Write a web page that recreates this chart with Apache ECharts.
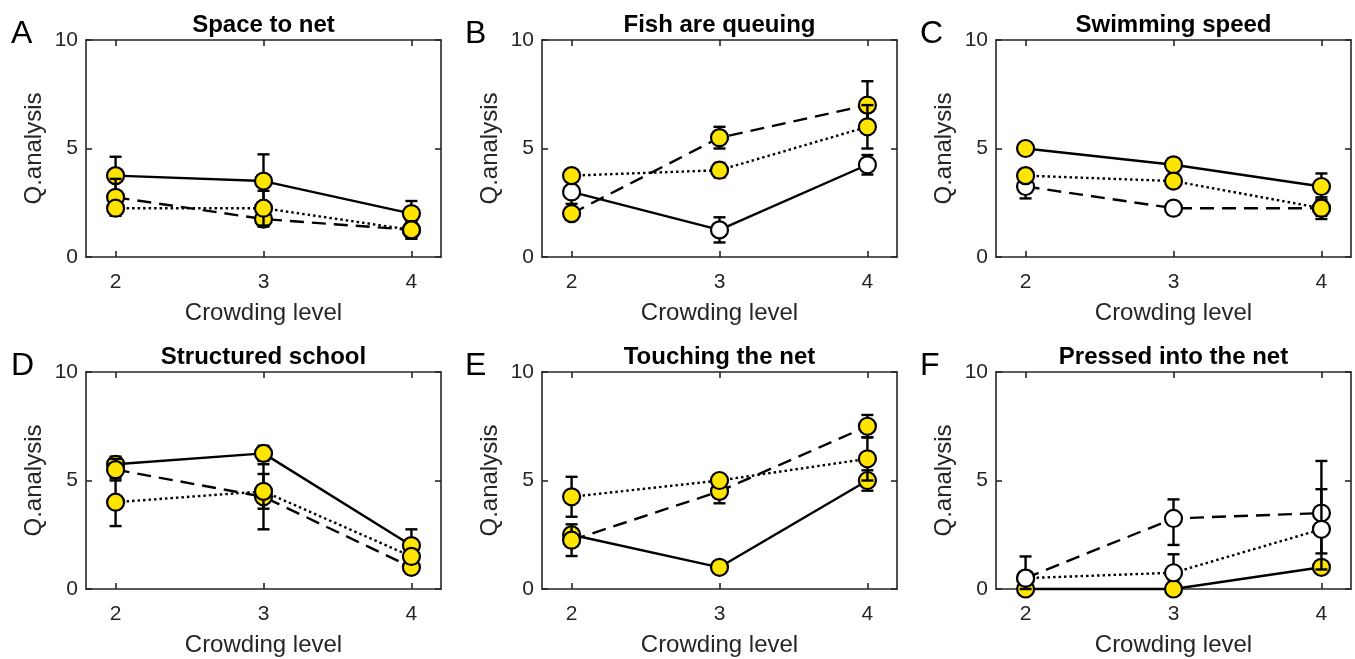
<!DOCTYPE html>
<html><head><meta charset="utf-8">
<script src="https://cdn.jsdelivr.net/npm/echarts@6/dist/echarts.min.js"></script>
<style>html,body{margin:0;padding:0;background:#fff}#c{width:1355px;height:659px}</style>
</head><body><div id="c"></div><script>
// ---------- DATA ----------
const crowding = [2, 3, 4];
const xTicks = [2, 3, 4];
const panelLetters = ['A', 'B', 'C', 'D', 'E', 'F'];
const panelTitles = ['Space to net', 'Fish are queuing', 'Swimming speed', 'Structured school', 'Touching the net', 'Pressed into the net'];
const xName = 'Crowding level';
const yName = 'Q.analysis';
// fill: 1 = yellow filled marker, 0 = open (white) marker; err = [low, high]
// A: Space to net
const A_solid = [3.75, 3.5, 2.0];
const A_solid_err = [[2.88, 4.62], [2.27, 4.73], [1.42, 2.58]];
const A_solid_fill = [1, 1, 1];
const A_dashed = [2.75, 1.75, 1.25];
const A_dashed_err = [[1.9, 3.6], [1.4, 2.1], [0.85, 1.65]];
const A_dashed_fill = [1, 1, 1];
const A_dotted = [2.25, 2.25, 1.25];
const A_dotted_err = [[2.0, 2.5], [1.45, 3.05], [0.85, 1.65]];
const A_dotted_fill = [1, 1, 1];
// B: Fish are queuing
const B_solid = [3.0, 1.25, 4.25];
const B_solid_err = [[2.45, 3.55], [0.67, 1.83], [3.8, 4.7]];
const B_solid_fill = [0, 0, 0];
const B_dashed = [2.0, 5.5, 7.0];
const B_dashed_err = [[1.75, 2.25], [5.0, 6.0], [5.9, 8.1]];
const B_dashed_fill = [1, 1, 1];
const B_dotted = [3.75, 4.0, 6.0];
const B_dotted_err = [[3.55, 3.95], [3.67, 4.33], [5.0, 7.0]];
const B_dotted_fill = [1, 1, 1];
// C: Swimming speed
const C_solid = [5.0, 4.25, 3.25];
const C_solid_err = [[4.85, 5.15], [3.95, 4.55], [2.65, 3.85]];
const C_solid_fill = [1, 1, 1];
const C_dashed = [3.25, 2.25, 2.25];
const C_dashed_err = [[2.7, 3.8], [1.95, 2.55], [1.75, 2.75]];
const C_dashed_fill = [0, 0, 0];
const C_dotted = [3.75, 3.5, 2.25];
const C_dotted_err = [[3.45, 4.05], [3.2, 3.8], [1.9, 2.6]];
const C_dotted_fill = [1, 1, 1];
// D: Structured school
const D_solid = [5.75, 6.25, 2.0];
const D_solid_err = [[5.4, 6.1], [5.9, 6.6], [1.25, 2.75]];
const D_solid_fill = [1, 1, 1];
const D_dashed = [5.5, 4.25, 1.0];
const D_dashed_err = [[5.0, 6.0], [2.75, 5.75], [0.7, 1.3]];
const D_dashed_fill = [1, 1, 1];
const D_dotted = [4.0, 4.5, 1.5];
const D_dotted_err = [[2.9, 5.1], [3.7, 5.3], [1.2, 1.8]];
const D_dotted_fill = [1, 1, 1];
// E: Touching the net
const E_solid = [2.5, 1.0, 5.0];
const E_solid_err = [[2.2, 2.8], [0.8, 1.2], [4.53, 5.47]];
const E_solid_fill = [1, 1, 1];
const E_dashed = [2.25, 4.5, 7.5];
const E_dashed_err = [[1.52, 2.98], [3.95, 5.05], [6.98, 8.02]];
const E_dashed_fill = [1, 1, 1];
const E_dotted = [4.25, 5.0, 6.0];
const E_dotted_err = [[3.33, 5.17], [4.8, 5.2], [5.0, 7.0]];
const E_dotted_fill = [1, 1, 1];
// F: Pressed into the net
const F_solid = [0, 0, 1.0];
const F_solid_err = [[0, 0], [0, 0], [0.8, 1.2]];
const F_solid_fill = [1, 1, 1];
const F_dashed = [0.5, 3.25, 3.5];
const F_dashed_err = [[0, 1.5], [2.03, 4.13], [1.64, 5.9]];
const F_dashed_fill = [0, 0, 0];
const F_dotted = [0.5, 0.75, 2.75];
const F_dotted_err = [[0.3, 0.7], [0.4, 1.6], [0.9, 4.6]];
const F_dotted_fill = [0, 0, 0];

// ---------- BUILD ----------
const panelSeries = [
  [[A_solid, A_solid_err, A_solid_fill], [A_dashed, A_dashed_err, A_dashed_fill], [A_dotted, A_dotted_err, A_dotted_fill]],
  [[B_solid, B_solid_err, B_solid_fill], [B_dashed, B_dashed_err, B_dashed_fill], [B_dotted, B_dotted_err, B_dotted_fill]],
  [[C_solid, C_solid_err, C_solid_fill], [C_dashed, C_dashed_err, C_dashed_fill], [C_dotted, C_dotted_err, C_dotted_fill]],
  [[D_solid, D_solid_err, D_solid_fill], [D_dashed, D_dashed_err, D_dashed_fill], [D_dotted, D_dotted_err, D_dotted_fill]],
  [[E_solid, E_solid_err, E_solid_fill], [E_dashed, E_dashed_err, E_dashed_fill], [E_dotted, E_dotted_err, E_dotted_fill]],
  [[F_solid, F_solid_err, F_solid_fill], [F_dashed, F_dashed_err, F_dashed_fill], [F_dotted, F_dotted_err, F_dotted_fill]]
];
const lineTypes = ['solid', [14, 8], [2.5, 3]];
const FONT = '"Liberation Sans", Arial, Helvetica, sans-serif';
const AX = '#262626';
const YELLOW = '#FFE400';
const colLeft = [86, 542, 996];
const rowTop = [40, 372];
const W = 355, H = 217;
const letterX = [11, 465, 920];

const option = { animation: false, backgroundColor: '#fff', grid: [], xAxis: [], yAxis: [], series: [], graphic: [] };

panelTitles.forEach((title, i) => {
  const r = Math.floor(i / 3), c = i % 3;
  const left = colLeft[c], top = rowTop[r];
  option.grid.push({ left: left, top: top, width: W, height: H, show: false });
  const axisLine = { show: true, onZero: false, lineStyle: { color: AX, width: 1.6 } };
  const tick = (vals) => ({ show: true, inside: true, length: 6, customValues: vals, lineStyle: { color: AX, width: 1.6 } });
  option.xAxis.push({
    type: 'value', gridIndex: i, position: 'bottom', min: 1.8, max: 4.2,
    axisLine: axisLine, axisTick: tick(xTicks),
    axisLabel: { show: true, customValues: xTicks, margin: 15, fontSize: 21, color: AX, fontFamily: FONT },
    splitLine: { show: false },
    name: xName, nameLocation: 'middle', nameGap: 44,
    nameTextStyle: { fontSize: 24, color: AX, fontFamily: FONT }
  });
  option.xAxis.push({
    type: 'value', gridIndex: i, position: 'top', min: 1.8, max: 4.2,
    axisLine: axisLine, axisTick: tick(xTicks), axisLabel: { show: false }, splitLine: { show: false }
  });
  option.yAxis.push({
    type: 'value', gridIndex: i, position: 'left', min: 0, max: 10, interval: 5,
    axisLine: axisLine, axisTick: { show: true, inside: true, length: 6, lineStyle: { color: AX, width: 1.6 } },
    axisLabel: { margin: 8, fontSize: 21, color: AX, fontFamily: FONT },
    splitLine: { show: false },
    name: yName, nameLocation: 'middle', nameGap: 40, nameRotate: 90,
    nameTextStyle: { fontSize: 24, color: AX, fontFamily: FONT }
  });
  option.yAxis.push({
    type: 'value', gridIndex: i, position: 'right', min: 0, max: 10, interval: 5,
    axisLine: axisLine, axisTick: { show: true, inside: true, length: 6, lineStyle: { color: AX, width: 1.6 } },
    axisLabel: { show: false }, splitLine: { show: false }
  });

  panelSeries[i].forEach((s, j) => {
    const mean = s[0], err = s[1], fill = s[2];
    const z = 2 + j;
    option.series.push({
      type: 'custom', xAxisIndex: 2 * i, yAxisIndex: 2 * i, z: z, clip: false, silent: true,
      data: crowding.map((x, k) => [x, err[k][0], err[k][1]]),
      encode: { x: 0, y: [1, 2] },
      renderItem: function (params, api) {
        const x = api.value(0), lo = api.value(1), hi = api.value(2);
        const p1 = api.coord([x, hi]), p2 = api.coord([x, lo]);
        const w = 6;
        const st = { stroke: '#000', lineWidth: 2.4 };
        return {
          type: 'group', children: [
            { type: 'line', shape: { x1: p1[0], y1: p1[1], x2: p2[0], y2: p2[1] }, style: st },
            { type: 'line', shape: { x1: p1[0] - w, y1: p1[1], x2: p1[0] + w, y2: p1[1] }, style: st },
            { type: 'line', shape: { x1: p2[0] - w, y1: p2[1], x2: p2[0] + w, y2: p2[1] }, style: st }
          ]
        };
      }
    });
    option.series.push({
      type: 'line', xAxisIndex: 2 * i, yAxisIndex: 2 * i, z: z, clip: false, silent: true,
      symbol: 'circle', symbolSize: 17, showSymbol: true,
      lineStyle: { color: '#000', width: 2.4, type: lineTypes[j] },
      itemStyle: { borderColor: '#000', borderWidth: 2.2 },
      data: crowding.map((x, k) => ({ value: [x, mean[k]], itemStyle: { color: fill[k] ? YELLOW : '#ffffff', borderColor: '#000', borderWidth: 2.2 } }))
    });
  });

  option.graphic.push({
    type: 'text', x: left + W / 2, y: top - 15,
    style: { text: title, align: 'center', verticalAlign: 'middle', textAlign: 'center', textVerticalAlign: 'middle', fontSize: 24, fontWeight: 'bold', fontFamily: FONT, fill: '#000' }
  });
  option.graphic.push({
    type: 'text', x: letterX[c], y: top - 6,
    style: { text: panelLetters[i], align: 'left', verticalAlign: 'middle', textAlign: 'left', textVerticalAlign: 'middle', fontSize: 32, fontFamily: FONT, fill: '#000' }
  });
});

const chart = echarts.init(document.getElementById('c'), null, { renderer: 'canvas' });
chart.setOption(option);
</script></body></html>
